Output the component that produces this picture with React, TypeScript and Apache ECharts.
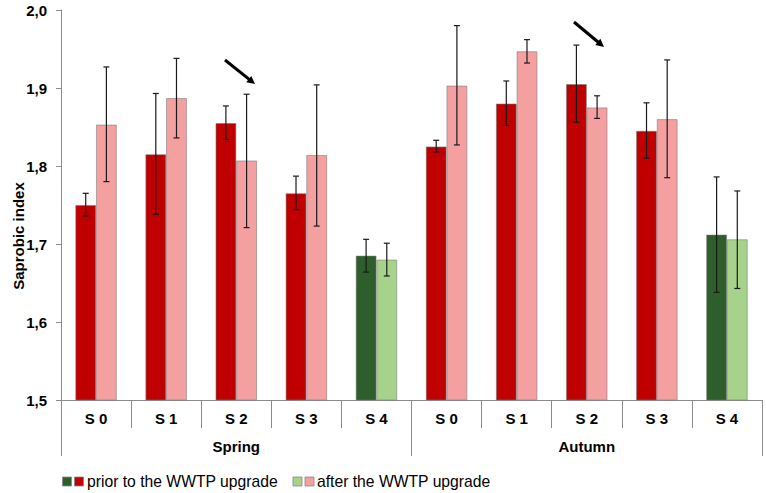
import React, { useEffect, useRef } from "react";
import * as echarts from "echarts";

const categories = ["S 0", "S 1", "S 2", "S 3", "S 4", "S 0", "S 1", "S 2", "S 3", "S 4"];
const seasons = ["Spring", "Autumn"];
const yTicks = [1.5, 2.0, 0.1];

const prior = [1.75, 1.815, 1.855, 1.765, 1.685, 1.825, 1.88, 1.905, 1.845, 1.712];
const priorLow = [1.736, 1.738, 1.834, 1.744, 1.664, 1.818, 1.852, 1.856, 1.81, 1.638];
const priorHigh = [1.765, 1.893, 1.877, 1.787, 1.706, 1.833, 1.909, 1.955, 1.881, 1.786];

const after = [1.853, 1.887, 1.807, 1.814, 1.68, 1.903, 1.947, 1.875, 1.86, 1.706];
const afterLow = [1.78, 1.836, 1.721, 1.723, 1.659, 1.827, 1.932, 1.861, 1.785, 1.643];
const afterHigh = [1.927, 1.938, 1.892, 1.904, 1.701, 1.98, 1.962, 1.89, 1.936, 1.768];

const greenIdx = [4, 9];
const legendPrior = "prior to the WWTP upgrade";
const legendAfter = "after the WWTP upgrade";
const yName = "Saprobic index";

const FONT = "'Liberation Sans', Arial, sans-serif";
const DARK_RED = "#C00000";
const PINK = "#F5A0A0";
const DARK_GREEN = "#2D5E2C";
const LIGHT_GREEN = "#A6D28B";
const AXIS = "#8c8c8c";
const BAR_GAP = 0.41;

function arrow(x1: number, y1: number, x2: number, y2: number) {
  const dx = x2 - x1;
  const dy = y2 - y1;
  const len = Math.sqrt(dx * dx + dy * dy);
  const ux = dx / len;
  const uy = dy / len;
  const hl = 8;
  const hw = 4;
  const bx = x2 - ux * hl;
  const by = y2 - uy * hl;
  const px = -uy;
  const py = ux;
  return [
    {
      type: "line",
      shape: { x1, y1, x2: bx + ux, y2: by + uy },
      style: { stroke: "#000", lineWidth: 3 },
      silent: true,
    },
    {
      type: "polygon",
      shape: {
        points: [
          [x2, y2],
          [bx + px * hw, by + py * hw],
          [bx - px * hw, by - py * hw],
        ],
      },
      style: { fill: "#000" },
      silent: true,
    },
  ];
}

export default function App() {
  const ref = useRef<HTMLDivElement>(null);

  useEffect(() => {
    if (!ref.current) return;
    const chart = echarts.init(ref.current, null, { renderer: "svg" });

    const errData: number[][] = [];
    categories.forEach((_, i) => {
      errData.push([i, priorLow[i], priorHigh[i], 0]);
      errData.push([i, afterLow[i], afterHigh[i], 1]);
    });

    const labelStyle = {
      fontWeight: "bold" as const,
      fontSize: 15,
      color: "#000",
      fontFamily: FONT,
    };

    const option: any = {
      animation: false,
      grid: { left: 61, right: 4, top: 10, bottom: 93 },
      xAxis: [
        {
          type: "category",
          data: categories,
          position: "bottom",
          axisLine: { show: true, lineStyle: { color: AXIS, width: 1 } },
          axisTick: { show: true, length: 28, interval: 0, lineStyle: { color: AXIS } },
          axisLabel: { interval: 0, margin: 11, ...labelStyle },
          splitLine: { show: false },
        },
        {
          type: "category",
          data: seasons,
          position: "bottom",
          offset: 0,
          axisLine: { show: false },
          axisTick: { show: true, length: 56, interval: 0, lineStyle: { color: AXIS } },
          axisLabel: { interval: 0, margin: 39, ...labelStyle },
          splitLine: { show: false },
        },
      ],
      yAxis: {
        type: "value",
        min: yTicks[0],
        max: yTicks[1],
        interval: yTicks[2],
        axisLine: { show: true, lineStyle: { color: AXIS, width: 1 } },
        axisTick: { show: true, length: 5, lineStyle: { color: AXIS } },
        splitLine: { show: false },
        axisLabel: {
          margin: 14,
          formatter: (v: number) => v.toFixed(1).replace(".", ","),
          ...labelStyle,
        },
      },
      series: [
        {
          name: legendPrior,
          type: "bar",
          xAxisIndex: 0,
          barGap: "0%",
          barCategoryGap: BAR_GAP * 100 + "%",
          data: prior.map((v, i) => ({
            value: v,
            itemStyle: {
              color: greenIdx.includes(i) ? DARK_GREEN : DARK_RED,
              borderColor: "rgba(120,120,120,0.7)",
              borderWidth: 0.8,
            },
          })),
        },
        {
          name: legendAfter,
          type: "bar",
          xAxisIndex: 0,
          barGap: "0%",
          barCategoryGap: BAR_GAP * 100 + "%",
          data: after.map((v, i) => ({
            value: v,
            itemStyle: {
              color: greenIdx.includes(i) ? LIGHT_GREEN : PINK,
              borderColor: "rgba(120,120,120,0.7)",
              borderWidth: 0.8,
            },
          })),
        },
        {
          type: "custom",
          xAxisIndex: 0,
          yAxisIndex: 0,
          encode: { x: 0, y: [1, 2] },
          data: errData,
          z: 10,
          renderItem: (params: any, api: any) => {
            const idx = api.value(0);
            const lo = api.value(1);
            const hi = api.value(2);
            const side = api.value(3);
            const catW = api.size([1, 0])[0];
            const barW = (catW * (1 - BAR_GAP)) / 2;
            const pLo = api.coord([idx, lo]);
            const pHi = api.coord([idx, hi]);
            const x = pLo[0] + (side === 0 ? -barW / 2 : barW / 2);
            const cap = 3;
            const st = { stroke: "#1a1a1a", lineWidth: 1.2 };
            return {
              type: "group",
              children: [
                { type: "line", shape: { x1: x, y1: pLo[1], x2: x, y2: pHi[1] }, style: st },
                { type: "line", shape: { x1: x - cap, y1: pHi[1], x2: x + cap, y2: pHi[1] }, style: st },
                { type: "line", shape: { x1: x - cap, y1: pLo[1], x2: x + cap, y2: pLo[1] }, style: st },
              ],
            };
          },
        },
      ],
      graphic: [
        {
          type: "text",
          x: 18,
          y: 236,
          rotation: Math.PI / 2,
          style: {
            text: yName,
            textAlign: "center",
            textVerticalAlign: "middle",
            fontSize: 15,
            fontWeight: "bold",
            fontFamily: FONT,
            fill: "#000",
          },
        },
        ...arrow(225, 60, 255, 84),
        ...arrow(574, 22, 604, 47),
        { type: "rect", shape: { x: 62.5, y: 477, width: 9, height: 9 }, style: { fill: DARK_GREEN, stroke: "#888", lineWidth: 0.8 } },
        { type: "rect", shape: { x: 74.5, y: 477, width: 9, height: 9 }, style: { fill: DARK_RED, stroke: "#888", lineWidth: 0.8 } },
        {
          type: "text",
          x: 87,
          y: 481.5,
          style: { text: legendPrior, textVerticalAlign: "middle", fontSize: 15.7, fontFamily: FONT, fill: "#000" },
        },
        { type: "rect", shape: { x: 293, y: 477, width: 9, height: 9 }, style: { fill: LIGHT_GREEN, stroke: "#888", lineWidth: 0.8 } },
        { type: "rect", shape: { x: 305, y: 477, width: 9, height: 9 }, style: { fill: PINK, stroke: "#888", lineWidth: 0.8 } },
        {
          type: "text",
          x: 317,
          y: 481.5,
          style: { text: legendAfter, textVerticalAlign: "middle", fontSize: 15.7, fontFamily: FONT, fill: "#000" },
        },
      ],
    };

    chart.setOption(option);
    return () => chart.dispose();
  }, []);

  return (
    <div
      ref={ref}
      style={{ position: "absolute", left: 0, top: 0, width: 766, height: 493 }}
    />
  );
}
